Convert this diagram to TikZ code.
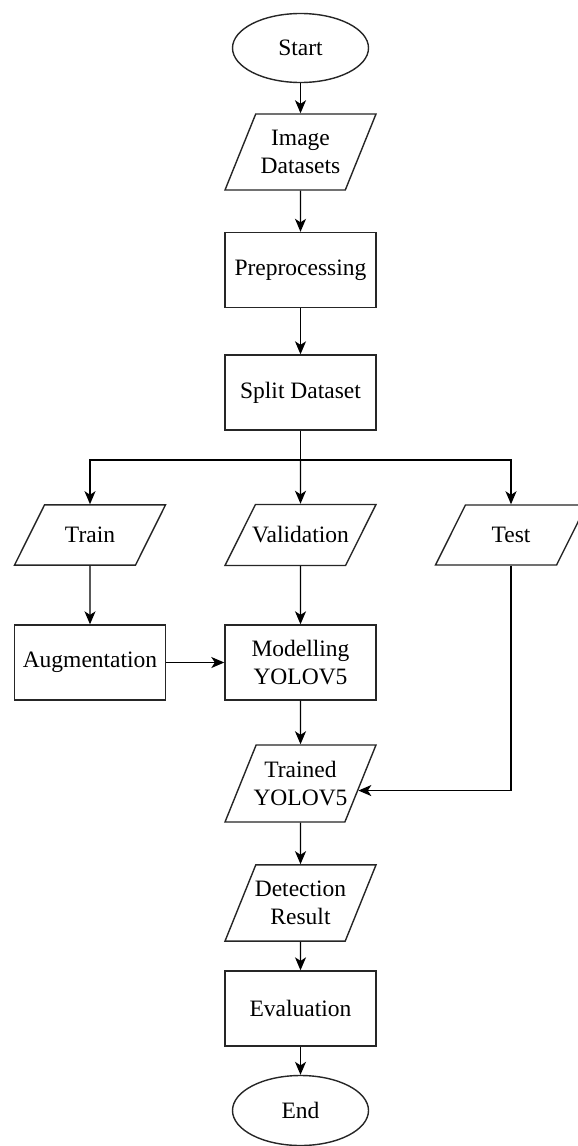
\documentclass[tikz,border=0pt]{standalone}
\usepackage{fontspec}
\setmainfont{Liberation Serif}
\usepackage{tikz}
\usetikzlibrary{calc,shapes.geometric,arrows.meta,positioning}

\begin{document}
\begin{tikzpicture}[x=0.5pt,y=-0.5pt]

\tikzset{
  terminal/.style={ellipse, draw=black!85, line width=0.7pt, fill=white,
                  font=\fontsize{11.75}{14}\selectfont, align=center,
                  minimum width=68pt, minimum height=34.5pt, inner sep=1pt},
  process/.style={rectangle, draw=black!85, line width=0.7pt, fill=white,
                  font=\fontsize{11.75}{14}\selectfont, align=center,
                  minimum width=75.5pt, minimum height=37.5pt, inner sep=1pt},
  data/.style={trapezium, trapezium stretches body=true,
                  trapezium left angle=68, trapezium right angle=112,
                  draw=black!85, line width=0.7pt, fill=white,
                  font=\fontsize{11.75}{14}\selectfont, align=center,
                  minimum width=75.5pt, inner xsep=-2pt, inner ysep=8.1pt},
  dataline/.style={data, trapezium left angle=63.5, trapezium right angle=116.5,
                  inner ysep=11.1pt},
  flow/.style={black, line width=0.7pt,
                  -{Stealth[length=6.5pt, width=5.5pt, inset=1.8pt]}}
}

% Page frame
\clip (0,0) rectangle (578,1146);

% Main column
\node[terminal] (start) at (300.5, 48) {Start};
\node[data] (images) at (300.5, 152) {Image\\Datasets};
\node[process] (prep) at (300.5, 270) {Preprocessing};
\node[process] (split) at (300.5, 392.5) {Split Dataset};

% Split branches
\coordinate (fork) at (300.5, 460);
\node[dataline] (train) at (90, 535) {Train};
\node[dataline] (valid) at (300.5, 535) {Validation};
\node[dataline] (test) at (511, 535) {Test};

% Training
\node[process] (aug) at (90, 662.5) {Augmentation};
\node[process] (model) at (300.5, 662.5) {Modelling\\YOLOV5};
\node[data] (trained) at (300.5, 783.5) {Trained\\YOLOV5};

% Results
\node[data] (detect) at (300.5, 903) {Detection\\Result};
\node[process] (eval) at (300.5, 1008.5) {Evaluation};
\node[terminal, minimum height=35pt] (end) at (300.5, 1110.5) {End};

% Lines
\draw[flow] (start) -- (images);
\draw[flow] (images) -- (prep);
\draw[flow] (prep) -- (split);
\draw[black, line width=0.7pt] (split) -- (fork);
\draw[flow] (fork) -| (train);
\draw[flow] (fork) -- (valid);
\draw[flow] (fork) -| (test);
\draw[flow] (train) -- (aug);
\draw[flow] (valid) -- (model);
\draw[flow] (aug) -- (model);
\draw[flow] (model) -- (trained);
\coordinate (tin) at ($(trained.top right corner)!0.59!(trained.bottom right corner)$);
\draw[flow] (test.south) |- (tin);
\draw[flow] (trained) -- (detect);
\draw[flow] (detect) -- (eval);
\draw[flow] (eval) -- (end);

\end{tikzpicture}
\end{document}
